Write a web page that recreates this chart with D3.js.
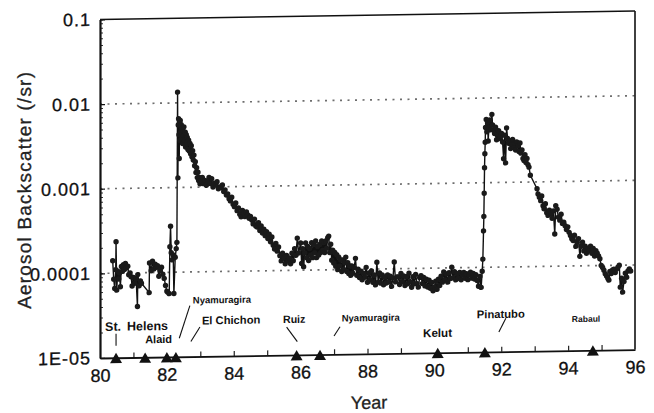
<!DOCTYPE html>
<html>
<head>
<meta charset="utf-8">
<script src="https://cdn.jsdelivr.net/npm/d3@7/dist/d3.min.js"></script>
<style>
  html, body { margin: 0; padding: 0; background: #fff; }
  svg { display: block; }
</style>
</head>
<body>
<svg id="chart" width="654" height="413"></svg>
<script>
// Stratospheric aerosol backscatter record, [decimal year (19xx), backscatter /sr]
const background1980 = [
  [80.38,1.4e-4],[80.41,8.5e-5],[80.44,6.6e-5],[80.47,1.1e-4],[80.48,2.35e-4],[80.50,6.3e-5],
  [80.53,1.05e-4],[80.56,8.5e-5],[80.58,1.0e-4],[80.61,6.9e-5],[80.64,1.2e-4],[80.67,1.05e-4],
  [80.70,1.25e-4],[80.73,1.1e-4],[80.76,1.3e-4],[80.79,1.15e-4],[80.83,1.2e-4],[80.86,9.5e-5],
  [80.90,1.0e-4],[80.93,9e-5],[80.96,7e-5],[81.00,8.8e-5],[81.04,7.5e-5],[81.08,8.5e-5],
  [81.12,4e-5],[81.13,9.5e-5],[81.17,7e-5],[81.21,8e-5],[81.24,7.5e-5],[81.47,5.8e-5],
  [81.48,1.3e-4],[81.53,1.05e-4],[81.57,1.36e-4],[81.61,1.1e-4],[81.65,1.25e-4],[81.69,1.15e-4],
  [81.72,1.2e-4],[81.76,9e-5],[81.80,1.05e-4],[81.84,1.15e-4],[81.88,9.5e-5],[81.92,8.5e-5],
  [81.96,7e-5],[82.00,6e-5],[82.03,5.8e-5],[82.07,5.6e-5],[82.09,2e-4],[82.11,3.5e-4],
  [82.13,1.7e-4],[82.16,1.4e-4],[82.19,1.6e-4],[82.21,5.6e-5],[82.25,1.5e-4],[82.28,1.9e-4],
  [82.30,2.25e-4]
];
const elChichonCloud = [
  [82.32,0.0134],[82.33,0.0013],[82.34,0.0055],[82.35,0.0065],[82.36,0.0042],[82.37,0.0022],
  [82.38,0.0058],[82.39,0.0036],[82.40,0.0062],[82.41,0.0045],[82.43,0.0055],[82.44,0.0038],
  [82.45,0.0050],[82.47,0.0033],[82.48,0.0047],[82.50,0.0041],[82.51,0.0052],[82.53,0.0036],
  [82.55,0.0045],[82.56,0.0030],[82.58,0.0042],[82.60,0.0033],[82.61,0.0039],[82.63,0.0028],
  [82.65,0.0036],[82.67,0.0027],[82.69,0.0033],[82.71,0.0025],[82.73,0.0031],[82.75,0.0023],
  [82.77,0.0027],[82.79,0.0021],[82.81,0.0024],[82.83,0.0018],[82.85,0.0020],[82.87,0.0015],
  [82.89,0.0017],[82.91,0.0013],[82.93,0.0015],[82.95,0.0012],[82.97,0.0013],[82.99,0.0011]
];
const decay1983 = [
  [83.02,0.0012],[83.06,0.0013],[83.10,0.0011],[83.14,0.0012],[83.18,0.00105],[83.22,0.00115],
  [83.26,0.0013],[83.30,0.0011],[83.34,0.00125],[83.38,0.0010],[83.42,0.0011],[83.46,0.00105],
  [83.50,0.00115],[83.54,0.00095],[83.58,0.0010],[83.62,0.00098],[83.66,0.00105],[83.70,0.00088],
  [83.74,0.00092],[83.78,0.0008],[83.82,0.00082],[83.86,0.00072],[83.90,0.00068],[83.94,0.00075],
  [83.98,0.00062],[84.02,0.00058],[84.06,0.00064],[84.10,0.00052],[84.14,0.00056],[84.18,0.00047],
  [84.22,0.00044],[84.26,0.00052],[84.30,0.00048],[84.34,0.00044],[84.38,0.0005],[84.42,0.00046],
  [84.46,0.00042],[84.50,0.00044],[84.54,0.0004],[84.58,0.00036],[84.62,0.00041],[84.66,0.00034],
  [84.70,0.00033],[84.74,0.00037],[84.78,0.0003],[84.82,0.00034],[84.86,0.00028],[84.90,0.00031],
  [84.94,0.00026],[84.98,0.00029],[85.02,0.00024],[85.06,0.00027],[85.10,0.00022],[85.14,0.00025],
  [85.18,0.0002],[85.22,0.00018],[85.26,0.00021],[85.30,0.00017],[85.34,0.00019],[85.38,0.00015],
  [85.42,0.00013],[85.46,0.00016],[85.50,0.00014],[85.54,0.00012],[85.58,0.00015],[85.62,0.00013],
  [85.66,0.00014],[85.70,0.00012],[85.74,0.00016],[85.78,0.00013],[85.82,0.00018],[85.86,0.00015],
  [85.90,0.00024],[85.94,0.00016]
];
const plateau1986 = [
  [86.00,0.00021],[86.03,0.00012],[86.06,0.00018],[86.09,0.00011],[86.12,0.00016],[86.15,0.00021],
  [86.18,0.00014],[86.21,0.00019],[86.24,0.00013],[86.27,0.00018],[86.30,0.00015],[86.33,0.00021],
  [86.36,0.00014],[86.39,0.0002],[86.42,0.00016],[86.45,0.00022],[86.48,0.00014],[86.51,0.00019],
  [86.54,0.00015],[86.57,0.0002],[86.60,0.00016],[86.63,0.00022],[86.66,0.00017],[86.69,0.00021],
  [86.72,0.00016],[86.75,0.00022],[86.78,0.00018],[86.81,0.00024],[86.84,0.00025],[86.87,0.00016],
  [86.90,0.0002],[86.93,0.00013],[86.96,0.00017],[86.99,0.00012],[87.02,0.00016],[87.05,0.00011],
  [87.08,0.00015],[87.11,0.0001],[87.14,0.00014],[87.17,0.00011],[87.20,0.00013],[87.23,0.000095],
  [87.26,0.00013],[87.29,0.0001],[87.32,0.00012],[87.35,0.00014],[87.38,0.000095],[87.41,0.00012],
  [87.44,0.00009],[87.47,0.00011],[87.50,0.000085],[87.53,0.00011],[87.56,0.00009],[87.60,0.000105],
  [87.64,0.000135],[87.68,0.000085],[87.72,0.0001],[87.76,0.00008],[87.80,0.000095],[87.84,0.000075],
  [87.88,0.00009],[87.92,0.00008],[87.96,0.000105],[88.00,0.00007],[88.04,0.00009],[88.08,0.000075],
  [88.12,0.000095],[88.16,0.00007],[88.20,0.000085],[88.24,0.000065],[88.28,0.00012],[88.32,0.00007],
  [88.36,0.00009],[88.40,0.000068],[88.44,0.000085],[88.48,0.000065],[88.52,0.00008],[88.56,0.000068],
  [88.60,0.000085],[88.64,0.00007],[88.68,0.000082],[88.72,0.000062],[88.76,0.000078],[88.80,0.00012],
  [88.84,0.00007],[88.88,0.00008]
];
const background1989 = [
  [88.92,0.00008],[88.96,0.000065],[89.00,0.000088],[89.04,0.00007],[89.08,0.000082],[89.12,0.000063],
  [89.16,0.00008],[89.20,0.000066],[89.24,0.000088],[89.28,0.00007],[89.32,0.00006],[89.36,0.00008],
  [89.40,0.000066],[89.44,0.000085],[89.48,0.000066],[89.52,0.00006],[89.56,0.000078],[89.60,0.000082],
  [89.64,0.000066],[89.68,0.000078],[89.72,0.000062],[89.76,0.000074],[89.80,0.00006],[89.84,0.000072],
  [89.88,0.000058],[89.92,0.000068],[89.96,0.000054],[90.00,0.00006],[90.04,0.00007],[90.08,0.000056],
  [90.12,0.000074],[90.16,0.000062],[90.20,0.00008],[90.24,0.000068],[90.28,0.00009],[90.32,0.000072],
  [90.36,0.000085],[90.40,0.000068],[90.44,0.000088],[90.48,0.000075],[90.52,0.000102],[90.56,0.000076],
  [90.60,0.00009],[90.64,0.000072],[90.68,0.000085],[90.72,0.000075],[90.76,0.000088],[90.80,0.000072],
  [90.84,0.000082],[90.88,0.000088],[90.92,0.000075],[90.96,0.000085],[91.00,0.000072],[91.04,0.000082],
  [91.08,0.000088],[91.12,0.000075],[91.16,0.000085],[91.20,0.000073],[91.24,0.000082],[91.28,0.00007],
  [91.32,0.00006],[91.36,0.000078],[91.40,0.000058],[91.43,0.00009],[91.45,0.000125]
];
const pinatuboCloud = [
  [91.47,0.00027],[91.48,0.0004],[91.49,0.00075],[91.50,0.0015],[91.51,0.0022],[91.52,0.003],
  [91.53,0.0045],[91.55,0.0056],[91.57,0.004],[91.59,0.0051],[91.61,0.0031],[91.63,0.0045],
  [91.66,0.0055],[91.69,0.0042],[91.72,0.0064],[91.74,0.0048],[91.77,0.0042],[91.80,0.0038],
  [91.83,0.0045],[91.86,0.0032],[91.89,0.0036],[91.92,0.0041],[91.95,0.0033],[91.98,0.0035],
  [92.01,0.0038],[92.04,0.003],[92.07,0.0019],[92.10,0.0036],[92.13,0.0017],[92.16,0.0044],
  [92.19,0.0033],[92.22,0.0029],[92.25,0.0031],[92.28,0.0025],[92.31,0.0028],[92.34,0.0032],
  [92.37,0.0026],[92.40,0.0029],[92.43,0.0024],[92.46,0.003],[92.50,0.0027],[92.53,0.0023],
  [92.56,0.0029],[92.59,0.0022],[92.62,0.0024],[92.65,0.0019],[92.68,0.0018],[92.71,0.0021],
  [92.74,0.0017],[92.77,0.0019],[92.80,0.0016],[92.83,0.0015],[92.87,0.0012]
];
const decay1993 = [
  [93.07,0.00083],[93.10,0.00072],[93.14,0.00066],[93.18,0.0006],[93.21,0.00068],[93.25,0.00052],
  [93.28,0.00048],[93.32,0.00055],[93.36,0.00043],[93.40,0.0004],[93.44,0.00046],[93.48,0.00042],
  [93.52,0.00037],[93.56,0.00045],[93.60,0.00024],[93.63,0.00052],[93.67,0.00047],[93.71,0.00038],
  [93.75,0.00035],[93.79,0.00041],[93.83,0.00032],[93.87,0.00033],[93.91,0.0003],[93.95,0.00027],
  [93.99,0.00029],[94.03,0.00025],[94.07,0.00023],[94.11,0.00021],[94.15,0.0002],[94.19,0.00023],
  [94.23,0.00017],[94.27,0.00019],[94.31,0.00021],[94.35,0.00013],[94.39,0.00017],[94.43,0.00019],
  [94.47,0.00015],[94.51,0.00017],[94.55,0.00014],[94.59,0.00016],[94.63,0.00015],[94.67,0.00017],
  [94.71,0.00014],[94.75,0.00016],[94.79,0.00013],[94.83,0.00015],[94.87,0.00014],[94.91,0.00013],
  [94.95,0.00012],[94.99,0.0001],[95.03,0.000095],[95.07,0.000088],[95.11,0.00008],[95.15,0.000075],
  [95.19,0.00007],[95.22,0.000067],[95.25,0.000085],[95.29,0.00008],[95.33,0.000088],[95.37,0.00009],
  [95.41,0.000082],[95.45,0.00009],[95.49,0.000095],[95.53,0.0001],[95.56,0.000055],[95.60,0.00007],
  [95.63,0.000048],[95.67,0.000064],[95.71,0.00008],[95.75,0.000072],[95.79,0.000085],[95.83,0.00009],
  [95.87,0.000085]
];

const observations = [].concat(
  background1980, elChichonCloud, decay1983, plateau1986,
  background1989, pinatuboCloud, decay1993
);

// Axes
const xTickYears = [80, 82, 84, 86, 88, 90, 92, 94, 96];
const xMinorYears = [81, 83, 84, 85, 87, 88, 89, 91, 92, 93, 94, 95];
const yTickValues = [1e-5, 1e-4, 1e-3, 1e-2, 1e-1];
const yTickLabels = ["1E-05", "0.0001", "0.001", "0.01", "0.1"];
const gridValues = [1e-2, 1e-3, 1e-4];

// Volcanic eruptions
const eruptionNames = ["St. Helens", "Alaid", "Nyamuragira", "El Chichon", "Ruiz",
                       "Nyamuragira", "Kelut", "Pinatubo", "Rabaul"];
const eruptionYears = [80.48, 81.35, 82.0, 82.27, 85.88, 86.58, 90.1, 91.51, 94.74];

// Annotation layout: text pieces placed relative to the eruption marker (dx), baseline y,
// optional leader line given as dx/y pairs.
const annotationLayout = [
  { parts: [{ t: "St.", dx: -11 }, { t: "Helens", dx: 11 }], y: 331, size: 12.5, weight: 700,
    leader: [0, 334, 0, 346] },
  { parts: [{ t: "Alaid", dx: 0 }], y: 344, size: 11, weight: 700 },
  { parts: [{ t: "Nyamuragira", dx: 26 }], y: 305, size: 9.5, weight: 700,
    leader: [23, 307, 12.4, 339.5] },
  { parts: [{ t: "El Chichon", dx: 26 }], y: 326, size: 11.2, weight: 700,
    leader: [24, 328.5, 15, 343] },
  { parts: [{ t: "Ruiz", dx: -13.6 }], y: 326, size: 10.6, weight: 700,
    leader: [-10, 330, 0.7, 344.8] },
  { parts: [{ t: "Nyamuragira", dx: 21.7 }], y: 325.3, size: 9.5, weight: 700,
    leader: [20, 330.5, 14, 339.7] },
  { parts: [{ t: "Kelut", dx: -14.7 }], y: 342.3, size: 11.6, weight: 700 },
  { parts: [{ t: "Pinatubo", dx: -8 }], y: 324.3, size: 11.2, weight: 700,
    leader: [21, 324.6, 14, 338.3] },
  { parts: [{ t: "Rabaul", dx: -21 }], y: 329.5, size: 8.5, weight: 700 }
];

const FONT = "'Liberation Sans', Arial, Helvetica, sans-serif";

const svg = d3.select("#chart");
// The printed figure sits on a slight slant; the whole drawing is sheared to follow it.
const root = svg.append("g")
  .attr("transform", "translate(100,0) skewY(-0.9) translate(-100,0)");

const x = d3.scaleLinear().domain([80, 96]).range([100, 635]);
const y = d3.scaleLog().domain([1e-5, 0.1]).range([358, 19.5]);

// Dotted reference lines
root.append("g").selectAll("line").data(gridValues).join("line")
  .attr("x1", x(80)).attr("x2", x(96))
  .attr("y1", d => y(d)).attr("y2", d => y(d))
  .attr("stroke", "#6e6e6e").attr("stroke-width", 1.7)
  .attr("stroke-dasharray", "2,5.5");

// Frame: top and right edges
root.append("line").attr("x1", x(80)).attr("x2", x(96)).attr("y1", y(0.1)).attr("y2", y(0.1))
  .attr("stroke", "#111").attr("stroke-width", 1.5);
root.append("line").attr("x1", x(96)).attr("x2", x(96)).attr("y1", y(0.1)).attr("y2", y(1e-5))
  .attr("stroke", "#111").attr("stroke-width", 1.6);

// X axis: minor yearly ticks and labelled even years
const xMinor = root.append("g").attr("transform", `translate(0,${y(1e-5)})`)
  .call(d3.axisBottom(x).tickValues(xMinorYears).tickSize(-5).tickSizeOuter(0).tickFormat(""));
xMinor.select(".domain").remove();
xMinor.selectAll("line").attr("stroke", "#222").attr("stroke-width", 1.2);

const xAxis = root.append("g").attr("transform", `translate(0,${y(1e-5)})`)
  .call(d3.axisBottom(x).tickValues(xTickYears).tickSize(0).tickSizeOuter(0).tickPadding(11)
    .tickFormat(d => String(d)));
xAxis.select(".domain").attr("stroke", "#111").attr("stroke-width", 1.8);
xAxis.selectAll("text").attr("font-family", FONT).attr("font-size", 18).attr("fill", "#111")
  .attr("stroke", "#111").attr("stroke-width", 0.3).attr("dy", "0.71em");

// Y axis: log minor ticks, labelled decades
const yMinorValues = y.ticks();
const yAxisMinor = root.append("g").attr("transform", `translate(${x(80)},0)`)
  .call(d3.axisLeft(y).tickValues(yMinorValues).tickSize(-3).tickSizeOuter(0).tickFormat(""));
yAxisMinor.select(".domain").remove();
yAxisMinor.selectAll("line").attr("stroke", "#333").attr("stroke-width", 1);

const yAxis = root.append("g").attr("transform", `translate(${x(80)},0)`)
  .call(d3.axisLeft(y).tickValues(yTickValues).tickSize(-5).tickSizeOuter(0).tickPadding(9)
    .tickFormat((d, i) => yTickLabels[i]));
yAxis.select(".domain").attr("stroke", "#111").attr("stroke-width", 2.2);
yAxis.selectAll("line").attr("stroke", "#111").attr("stroke-width", 1.2);
yAxis.selectAll("text").attr("font-family", FONT).attr("font-size", 18).attr("fill", "#111")
  .attr("stroke", "#111").attr("stroke-width", 0.3).attr("letter-spacing", "1px");

// Axis titles
root.append("text")
  .attr("transform", `translate(31,${(y(0.1) + y(1e-5)) / 2}) rotate(-90)`)
  .attr("text-anchor", "middle")
  .attr("font-family", FONT).attr("font-size", 19).attr("letter-spacing", "1.2px")
  .attr("fill", "#222").attr("stroke", "#222").attr("stroke-width", 0.3)
  .text("Aerosol Backscatter (/sr)");

root.append("text")
  .attr("x", 369).attr("y", 413)
  .attr("text-anchor", "middle")
  .attr("font-family", FONT).attr("font-size", 18).attr("fill", "#222")
  .attr("stroke", "#222").attr("stroke-width", 0.3)
  .text("Year");

// Series: connecting line then markers
const line = d3.line().x(d => x(d[0])).y(d => y(d[1]));
root.append("path").datum(observations)
  .attr("d", line).attr("fill", "none")
  .attr("stroke", "#111").attr("stroke-width", 1.4).attr("stroke-linejoin", "round");

root.append("g").selectAll("circle").data(observations).join("circle")
  .attr("cx", d => x(d[0])).attr("cy", d => y(d[1])).attr("r", 2.7)
  .attr("fill", "#1a1a1a");

// Eruption markers on the time axis
const tri = d3.symbol().type(d3.symbolTriangle).size(62);
root.append("g").selectAll("path").data(eruptionYears).join("path")
  .attr("d", tri)
  .attr("transform", d => `translate(${x(d)},${y(1e-5) + 2})`)
  .attr("fill", "#111");

// Eruption names and leaders
const ann = root.append("g").attr("font-family", FONT).attr("fill", "#111");
annotationLayout.forEach((a, i) => {
  const x0 = x(eruptionYears[i]);
  a.parts.forEach(p => {
    ann.append("text")
      .attr("x", x0 + p.dx).attr("y", a.y)
      .attr("font-size", a.size).attr("font-weight", a.weight)
      .text(p.t);
  });
  if (a.leader) {
    ann.append("line")
      .attr("x1", x0 + a.leader[0]).attr("y1", a.leader[1])
      .attr("x2", x0 + a.leader[2]).attr("y2", a.leader[3])
      .attr("stroke", "#111").attr("stroke-width", 1.1);
  }
});
</script>
</body>
</html>
